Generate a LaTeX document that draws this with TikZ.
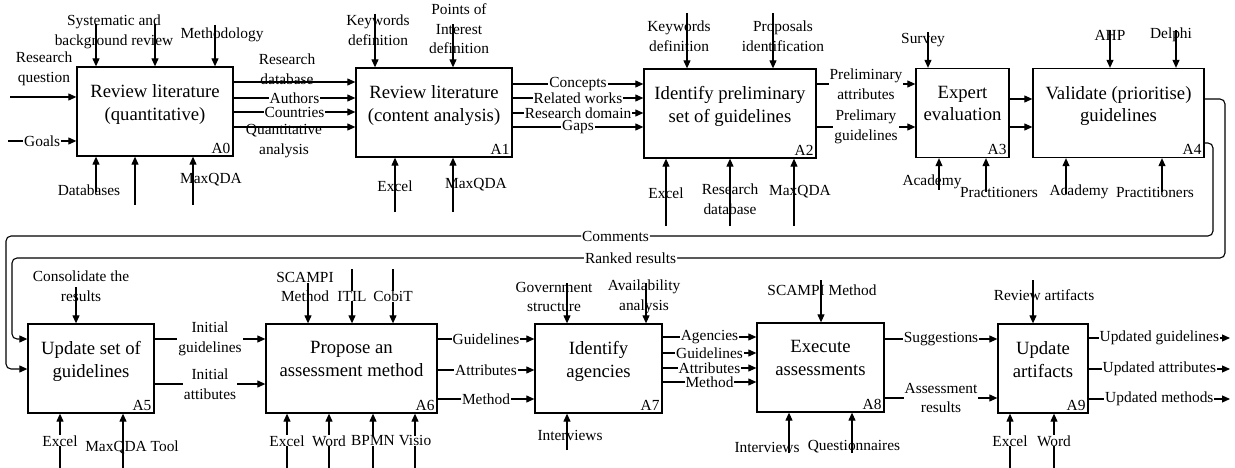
\documentclass[tikz,border=0pt]{standalone}
\usepackage{fontspec}
\setmainfont{Liberation Serif}
\usetikzlibrary{arrows.meta,positioning}

\newcommand{\lblfont}{\fontsize{15.4}{19.5}\selectfont}
\newcommand{\ttlfont}{\fontsize{18.7}{22.5}\selectfont}

\tikzstyle{ablock} = [rectangle, draw, line width=1.3pt, inner sep=0pt, minimum height=89pt]
\tikzstyle{atitle} = [align=center, inner sep=0pt, font=\ttlfont]
\tikzstyle{atag} = [inner sep=3pt, font=\lblfont]
\tikzstyle{alabel} = [align=center, inner sep=0pt, font=\lblfont]
\tikzstyle{ilabel} = [alabel, fill=white, inner xsep=1pt, inner ysep=0pt]
\tikzstyle{arrow} = [line width=1.1pt, -{Triangle[length=8pt,width=7pt]}]
\tikzstyle{fback} = [arrow, rounded corners=5pt]

\begin{document}
\begin{tikzpicture}[x=1pt, y=-1pt]
    \useasboundingbox (0,0) rectangle (1235,468);

    \node (a0) [ablock, minimum width=156pt] at (155,111.5) {};
    \node (a1) [ablock, minimum width=156pt] at (434,112.5) {};
    \node (a2) [ablock, minimum width=172pt] at (730,113.5) {};
    \node (a3) [ablock, minimum width=93pt] at (962.5,113) {};
    \node (a4) [ablock, minimum width=171pt] at (1118.5,113) {};
    \node (a5) [ablock, minimum width=126pt] at (91,368.5) {};
    \node (a6) [ablock, minimum width=171pt] at (351.5,368.5) {};
    \node (a7) [ablock, minimum width=127pt] at (598.5,368.5) {};
    \node (a8) [ablock, minimum width=127pt] at (820.5,367.5) {};
    \node (a9) [ablock, minimum width=90pt] at (1043,368.5) {};

    \node (t0) [atitle, below=18pt of a0.north] {Review literature\\(quantitative)};
    \node (t1) [atitle, below=18pt of a1.north] {Review literature\\(content analysis)};
    \node (t2) [atitle, below=18pt of a2.north] {Identify preliminary\\set of guidelines};
    \node (t3) [atitle, below=18pt of a3.north] {Expert\\evaluation};
    \node (t4) [atitle, below=18pt of a4.north] {Validate (prioritise)\\guidelines};
    \node (t5) [atitle, below=18pt of a5.north] {Update set of\\guidelines};
    \node (t6) [atitle, below=18pt of a6.north] {Propose an\\assessment method};
    \node (t7) [atitle, below=18pt of a7.north] {Identify\\agencies};
    \node (t8) [atitle, below=18pt of a8.north] {Execute\\assessments};
    \node (t9) [atitle, below=18pt of a9.north] {Update\\artifacts};

    \node (n0) [atag, above left=0pt of a0.south east] {A0};
    \node (n1) [atag, above left=0pt of a1.south east] {A1};
    \node (n2) [atag, above left=0pt of a2.south east] {A2};
    \node (n3) [atag, above left=0pt of a3.south east] {A3};
    \node (n4) [atag, above left=0pt of a4.south east] {A4};
    \node (n5) [atag, above left=0pt of a5.south east] {A5};
    \node (n6) [atag, above left=0pt of a6.south east] {A6};
    \node (n7) [atag, above left=0pt of a7.south east] {A7};
    \node (n8) [atag, above left=0pt of a8.south east] {A8};
    \node (n9) [atag, above left=0pt of a9.south east] {A9};

    \coordinate (i0a) at (10,97);
    \coordinate (i0b) at (8,141);
    \coordinate (c0a) at (96,24);
    \coordinate (c0b) at (155,24);
    \coordinate (c0c) at (215,25);
    \coordinate (m0a) at (96,192);
    \coordinate (m0b) at (135,205);
    \coordinate (m0c) at (193,205);
    \coordinate (c1a) at (375,14);
    \coordinate (c1b) at (453,24);
    \coordinate (m1a) at (395,212);
    \coordinate (m1b) at (453,212);
    \coordinate (c2a) at (687,13);
    \coordinate (c2b) at (773,13);
    \coordinate (m2a) at (666,226);
    \coordinate (m2b) at (730,226);
    \coordinate (m2c) at (794,226);
    \coordinate (c3) at (928,32);
    \coordinate (m3a) at (939,190);
    \coordinate (m3b) at (986,192);
    \coordinate (c4a) at (1110,30);
    \coordinate (c4b) at (1176,30);
    \coordinate (m4a) at (1066,194);
    \coordinate (m4b) at (1162,192);
    \coordinate (c5) at (76,287);
    \coordinate (m5a) at (60,468);
    \coordinate (m5b) at (123,468);
    \coordinate (c6a) at (308,283);
    \coordinate (c6b) at (352,269);
    \coordinate (c6c) at (393,269);
    \coordinate (m6a) at (287,468);
    \coordinate (m6b) at (329,468);
    \coordinate (m6c) at (373,468);
    \coordinate (m6d) at (415,468);
    \coordinate (c7a) at (567,283);
    \coordinate (c7b) at (646,283);
    \coordinate (m7) at (567,450);
    \coordinate (c8) at (821,280);
    \coordinate (m8a) at (789,453);
    \coordinate (m8b) at (852,453);
    \coordinate (c9) at (1033,280);
    \coordinate (m9a) at (1010,468);
    \coordinate (m9b) at (1054,468);
    \coordinate (o9a) at (1230,338);
    \coordinate (o9b) at (1230,369);
    \coordinate (o9c) at (1230,399);

    \node (l0a) [alabel] at (44,69) {Research\\question};
    \node (l0b) [alabel] at (114,32) {Systematic and\\background review};
    \node (l0c) [alabel] at (222,35) {Methodology};
    \node (l0d) [alabel] at (89,190) {Databases};
    \node (l0e) [alabel] at (211,180) {MaxQDA};
    \node (l0f) [alabel] at (287,69) {Research\\database};
    \node (l0g) [alabel] at (284,141) {Quantitative\\analysis};
    \node (l1a) [alabel] at (378,30) {Keywords\\definition};
    \node (l1b) [alabel] at (459,29) {Points of\\Interest\\definition};
    \node (l1c) [alabel] at (395,186) {Excel};
    \node (l1d) [alabel] at (476,185) {MaxQDA};
    \node (l2a) [alabel] at (679,36) {Keywords\\definition};
    \node (l2b) [alabel] at (783,36) {Proposals\\identification};
    \node (l2c) [alabel] at (666,193) {Excel};
    \node (l2d) [alabel] at (730,199) {Research\\database};
    \node (l2e) [alabel] at (800,192) {MaxQDA};
    \node (l3a) [alabel] at (923,40) {Survey};
    \node (l3b) [alabel] at (932,182) {Academy};
    \node (l3c) [alabel] at (999,192) {Practitioners};
    \node (l4a) [alabel] at (1110,35) {AHP};
    \node (l4b) [alabel] at (1171,35) {Delphi};
    \node (l4c) [alabel] at (1079,192) {Academy};
    \node (l4d) [alabel] at (1155,192) {Practitioners};
    \node (l5a) [alabel] at (81,286) {Consolidate the\\results};
    \node (l5b) [alabel] at (132,447) {MaxQDA Tool};
    \node (l6a) [alabel] at (305,287) {SCAMPI\\Method};
    \node (l7a) [alabel] at (554,297) {Government\\structure};
    \node (l7b) [alabel] at (644,297) {Availability\\analysis};
    \node (l7c) [alabel] at (570,435) {Interviews};
    \node (l8a) [alabel] at (822,290) {SCAMPI Method};
    \node (l8b) [alabel] at (767,447) {Interviews};
    \node (l8c) [alabel] at (854,447) {Questionnaires};
    \node (l9a) [alabel] at (1044,295) {Review artifacts};

    \draw [arrow] (i0a) -- (i0a -| a0.west);
    \draw [arrow] (i0b) -- node (g0) [ilabel] {Goals} (i0b -| a0.west);
    \draw [arrow] (c0a) -- (c0a |- a0.north);
    \draw [arrow] (c0b) -- (c0b |- a0.north);
    \draw [arrow] (c0c) -- (c0c |- a0.north);
    \draw [arrow] (m0a) -- (m0a |- a0.south);
    \draw [arrow] (m0b) -- (m0b |- a0.south);
    \draw [arrow] (m0c) -- (m0c |- a0.south);
    \draw [arrow] (a0.east |- 0,82) -- (a1.west |- 0,82);
    \draw [arrow] (a0.east |- 0,98) -- node (e0b) [ilabel] {Authors} (a1.west |- 0,98);
    \draw [arrow] (a0.east |- 0,112) -- node (e0c) [ilabel] {Countries} (a1.west |- 0,112);
    \draw [arrow] (a0.east |- 0,127) -- (a1.west |- 0,127);

    \draw [arrow] (c1a) -- (c1a |- a1.north);
    \draw [arrow] (c1b) -- (c1b |- a1.north);
    \draw [arrow] (m1a) -- (m1a |- a1.south);
    \draw [arrow] (m1b) -- (m1b |- a1.south);
    \draw [arrow] (a1.east |- 0,84) -- node (e1a) [ilabel] {Concepts} (a2.west |- 0,84);
    \draw [arrow] (a1.east |- 0,98) -- node (e1b) [ilabel] {Related works} (a2.west |- 0,98);
    \draw [arrow] (a1.east |- 0,113) -- node (e1c) [ilabel] {Research domain} (a2.west |- 0,113);
    \draw [arrow] (a1.east |- 0,127) -- node (e1d) [ilabel] {Gaps} (a2.west |- 0,127);

    \draw [arrow] (c2a) -- (c2a |- a2.north);
    \draw [arrow] (c2b) -- (c2b |- a2.north);
    \draw [arrow] (m2a) -- (m2a |- a2.south);
    \draw [arrow] (m2b) -- (m2b |- a2.south);
    \draw [arrow] (m2c) -- (m2c |- a2.south);
    \draw [arrow] (a2.east |- 0,84) -- node (e2a) [ilabel] {Preliminary\\attributes} (a3.west |- 0,84);
    \draw [arrow] (a2.east |- 0,127) -- node (e2b) [ilabel] {Prelimary\\guidelines} (a3.west |- 0,127);

    \draw [arrow] (c3) -- (c3 |- a3.north);
    \draw [arrow] (m3a) -- (m3a |- a3.south);
    \draw [arrow] (m3b) -- (m3b |- a3.south);
    \draw [arrow] (a3.east |- 0,99) -- (a4.west |- 0,99);
    \draw [arrow] (a3.east |- 0,127) -- (a4.west |- 0,127);

    \draw [arrow] (c4a) -- (c4a |- a4.north);
    \draw [arrow] (c4b) -- (c4b |- a4.north);
    \draw [arrow] (m4a) -- (m4a |- a4.south);
    \draw [arrow] (m4b) -- (m4b |- a4.south);
    \draw [fback] (a4.east |- 0,143) -| (1213,236) -- node (fb1) [ilabel, pos=0.495] {Comments} (6,236) |- (a5.west |- 0,369);
    \draw [fback] (a4.east |- 0,99) -| (1225,258) -- node (fb2) [ilabel, pos=0.49] {Ranked results} (12,258) |- (a5.west |- 0,339);

    \draw [arrow] (c5) -- (c5 |- a5.north);
    \draw [arrow] (m5a) -- node (g5) [ilabel] {Excel} (m5a |- a5.south);
    \draw [arrow] (m5b) -- (m5b |- a5.south);
    \draw [arrow] (a5.east |- 0,339) -- node (e5a) [ilabel] {Initial\\guidelines} (a6.west |- 0,339);
    \draw [arrow] (a5.east |- 0,384) -- node (e5b) [ilabel] {Initial\\attibutes} (a6.west |- 0,384);

    \draw [arrow] (c6a) -- (c6a |- a6.north);
    \draw [arrow] (c6b) -- node (g6a) [ilabel] {ITIL} (c6b |- a6.north);
    \draw [arrow] (c6c) -- node (g6b) [ilabel] {CobiT} (c6c |- a6.north);
    \draw [arrow] (m6a) -- node (g6c) [ilabel] {Excel} (m6a |- a6.south);
    \draw [arrow] (m6b) -- node (g6d) [ilabel] {Word} (m6b |- a6.south);
    \draw [arrow] (m6c) -- node (g6e) [ilabel] {BPMN} (m6c |- a6.south);
    \draw [arrow] (m6d) -- node (g6f) [ilabel] {Visio} (m6d |- a6.south);
    \draw [arrow] (a6.east |- 0,339) -- node (e6a) [ilabel] {Guidelines} (a7.west |- 0,339);
    \draw [arrow] (a6.east |- 0,370) -- node (e6b) [ilabel] {Attributes} (a7.west |- 0,370);
    \draw [arrow] (a6.east |- 0,399) -- node (e6c) [ilabel] {Method} (a7.west |- 0,399);

    \draw [arrow] (c7a) -- (c7a |- a7.north);
    \draw [arrow] (c7b) -- (c7b |- a7.north);
    \draw [arrow] (m7) -- (m7 |- a7.south);
    \draw [arrow] (a7.east |- 0,337) -- node (e7a) [ilabel] {Agencies} (a8.west |- 0,337);
    \draw [arrow] (a7.east |- 0,353) -- node (e7b) [ilabel] {Guidelines} (a8.west |- 0,353);
    \draw [arrow] (a7.east |- 0,368) -- node (e7c) [ilabel] {Attributes} (a8.west |- 0,368);
    \draw [arrow] (a7.east |- 0,382) -- node (e7d) [ilabel] {Method} (a8.west |- 0,382);

    \draw [arrow] (c8) -- (c8 |- a8.north);
    \draw [arrow] (m8a) -- (m8a |- a8.south);
    \draw [arrow] (m8b) -- (m8b |- a8.south);
    \draw [arrow] (a8.east |- 0,339) -- node (e8a) [ilabel] {Suggestions} (a9.west |- 0,339);
    \draw [arrow] (a8.east |- 0,398) -- node (e8b) [ilabel] {Assessment\\results} (a9.west |- 0,398);

    \draw [arrow] (c9) -- (c9 |- a9.north);
    \draw [arrow] (m9a) -- node (g9a) [ilabel] {Excel} (m9a |- a9.south);
    \draw [arrow] (m9b) -- node (g9b) [ilabel] {Word} (m9b |- a9.south);
    \draw [arrow] (a9.east |- o9a) -- node (e9a) [ilabel] {Updated guidelines} (o9a);
    \draw [arrow] (a9.east |- o9b) -- node (e9b) [ilabel] {Updated attributes} (o9b);
    \draw [arrow] (a9.east |- o9c) -- node (e9c) [ilabel] {Updated methods} (o9c);
\end{tikzpicture}
\end{document}
